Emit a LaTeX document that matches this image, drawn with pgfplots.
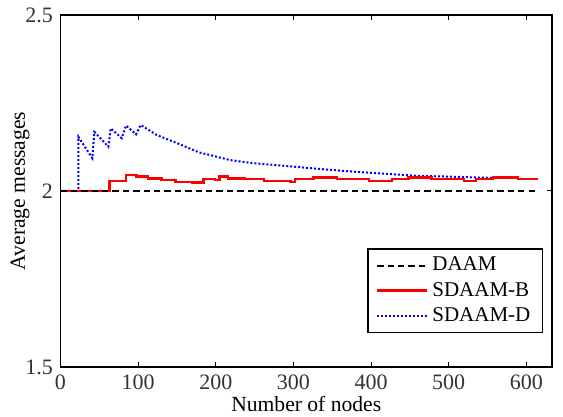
\documentclass[border=0pt]{standalone}
\usepackage{fontspec}
\setmainfont{Liberation Serif}
\usepackage{pgfplots}
\pgfplotsset{compat=1.18}

\begin{document}
\fontsize{10.8}{13}\selectfont
\begin{tikzpicture}
\begin{axis}[
    name=main,
    scale only axis,
    width=245.75pt, height=176pt,
    xmin=0, xmax=633,
    ymin=1.5, ymax=2.5,
    xtick={0,100,200,300,400,500,600},
    ytick={1.5,2,2.5},
    tick align=inside,
    major tick length=2.7pt,
    /pgf/number format/assume math mode=true,
    tick label style={font=\fontsize{11}{13}\selectfont, color=black!80},
    label style={font=\fontsize{10.8}{13}\selectfont},
    xlabel={Number of nodes},
    ylabel={Average messages},
    xlabel style={yshift=4pt},
    ylabel style={yshift=-9.5pt},
    axis line style={line width=0.6pt},
    every tick/.style={line width=0.5pt, black},
    legend style={
        at={(rel axis cs:0.9817,0.0966)}, anchor=south east,
        draw=black, line width=0.6pt,
        font=\fontsize{10.5}{12}\selectfont,
        row sep=0pt, inner xsep=4pt, inner ysep=2pt,
        cells={anchor=west},
    },
    legend image code/.code={\draw[#1] (0pt,0pt) -- (25pt,0pt);},
]

\addlegendimage{black, line width=1pt, dash pattern=on 3.2pt off 2pt}
\addlegendentry{DAAM}
\addlegendimage{red, line width=1.2pt}
\addlegendentry{SDAAM-B}
\addlegendimage{blue, line width=1pt, dash pattern=on 1pt off 1pt}
\addlegendentry{SDAAM-D}

% SDAAM-D
\addplot[forget plot, blue, line width=1pt, dash pattern=on 1pt off 1pt]
coordinates {
(0,2) (23,2) (23,2.154) (41,2.093) (43.6,2.168) (61.6,2.126) (64.7,2.178)
(78.9,2.150) (84.4,2.186) (97.3,2.161) (103.3,2.1875) (124,2.159)
(150,2.136) (178,2.110) (218,2.088) (248,2.079) (291,2.071) (334,2.0625)
(377,2.055) (412,2.050) (459,2.043) (500,2.041) (540,2.038) (565,2.037)
};

% SDAAM-B
\addplot[forget plot, red, line width=1.2pt, const plot]
coordinates {
(0,2.000) (63,2.029) (84,2.045) (98,2.041) (113,2.036) (130,2.031)
(148,2.026) (170,2.024) (184,2.034) (199,2.031) (205,2.041) (216,2.036)
(237,2.034) (262,2.029) (296,2.025) (302,2.034) (326,2.038) (356,2.034)
(397,2.029) (427,2.034) (448,2.038) (478,2.034) (520,2.029) (535,2.034)
(557,2.038) (589,2.034) (615,2.034)
};

% DAAM
\addplot[forget plot, black, line width=1pt, dash pattern=on 3.2pt off 2pt]
coordinates {(0,2) (615,2)};

\end{axis}
\path (main.south west) ++(-30.25pt,-25pt) coordinate (bbA);
\path (main.north east) ++(5.5pt,7.5pt) coordinate (bbB);
\pgfresetboundingbox
\path (bbA) rectangle (bbB);
\end{tikzpicture}
\end{document}
